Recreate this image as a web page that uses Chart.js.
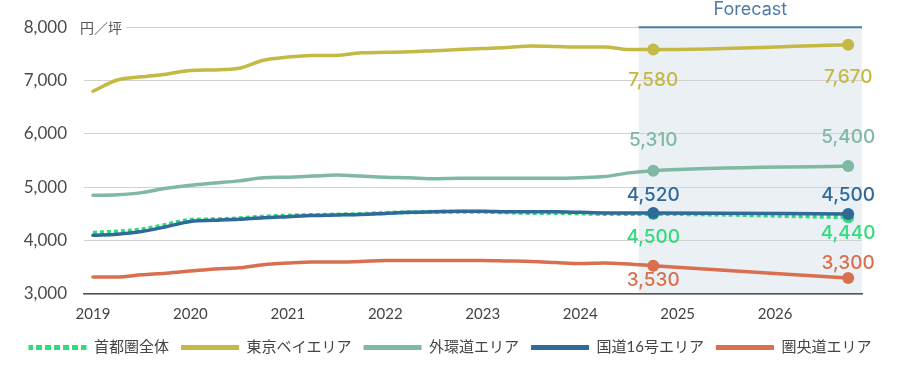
<!DOCTYPE html>
<html>
<head>
<meta charset="utf-8">
<script src="https://cdn.jsdelivr.net/npm/chart.js@4.4.1/dist/chart.umd.min.js"></script>
<style>
  html, body { margin: 0; padding: 0; background: #fff; }
</style>
</head>
<body>
<canvas id="ch1" width="900" height="365"></canvas>
<script>
// x positions: quarterly actuals, then the forecast end point
const quarters = [2019, 2019.25, 2019.5, 2019.75, 2020, 2020.25, 2020.5, 2020.75,
  2021, 2021.25, 2021.5, 2021.75, 2022, 2022.25, 2022.5, 2022.75,
  2023, 2023.25, 2023.5, 2023.75, 2024, 2024.25, 2024.5, 2024.75, 2026.75];
const years = [2019, 2020, 2021, 2022, 2023, 2024, 2025, 2026];
const yTicks = [3000, 4000, 5000, 6000, 7000, 8000];
const forecastStart = 2024.6;

const names = ['首都圏全体', '東京ベイエリア', '外環道エリア', '国道16号エリア', '圏央道エリア'];
const shutoken = [4150, 4170, 4210, 4300, 4390, 4400, 4420, 4450, 4470, 4480, 4490, 4500,
  4520, 4530, 4540, 4540, 4540, 4530, 4520, 4520, 4510, 4500, 4500, 4500, 4440];
const tokyoBay = [6800, 7010, 7070, 7120, 7190, 7200, 7230, 7380, 7440, 7470, 7470, 7520,
  7530, 7540, 7560, 7580, 7600, 7620, 7650, 7640, 7630, 7630, 7580, 7580, 7670];
const gaikando = [4850, 4860, 4900, 4980, 5040, 5080, 5120, 5180, 5190, 5210, 5230, 5210,
  5190, 5180, 5160, 5170, 5170, 5170, 5170, 5170, 5180, 5200, 5270, 5310, 5400];
const kokudo16 = [4100, 4120, 4170, 4260, 4360, 4380, 4400, 4430, 4450, 4470, 4480, 4490,
  4510, 4530, 4540, 4550, 4550, 4540, 4540, 4540, 4530, 4520, 4520, 4520, 4500];
const kenodo = [3320, 3320, 3360, 3390, 3430, 3470, 3490, 3550, 3580, 3600, 3600, 3610,
  3630, 3630, 3630, 3630, 3630, 3620, 3610, 3590, 3570, 3580, 3560, 3530, 3300];

const colors = ['#2fdc7c', '#c3b943', '#7fb8a3', '#2f6a99', '#d8704f'];
// label offsets (px) for the two marked points of each series
const labelOffsets = [[23, 16], [31, 32], [-30, -29], [-18, -19], [15, -15]];

Chart.defaults.font.family = "Lato, 'Noto Sans CJK JP', sans-serif";

function toXY(vals) {
  return vals.map((v, i) => ({ x: quarters[i], y: v }));
}

// square-dot pattern for the dotted legend swatch
const pc = document.createElement('canvas');
pc.width = 9; pc.height = 1;
const pctx = pc.getContext('2d');
pctx.fillStyle = colors[0];
pctx.fillRect(0, 0, 6, 1);
const dotPattern = document.getElementById('ch1').getContext('2d').createPattern(pc, 'repeat');

const markRadius = ctx => ctx.dataIndex >= quarters.length - 2 ? 6 : 0;

const seriesList = [shutoken, tokyoBay, gaikando, kokudo16, kenodo];
const datasets = seriesList.map((vals, i) => ({
  label: names[i],
  data: toXY(vals),
  borderColor: colors[i],
  backgroundColor: colors[i],
  borderWidth: i === 0 ? 4 : 3.5,
  borderDash: i === 0 ? [4, 3] : [],
  borderCapStyle: i === 0 ? 'butt' : 'round',
  pointRadius: markRadius,
  pointHoverRadius: markRadius,
  pointBorderWidth: 0,
  cubicInterpolationMode: 'monotone',
  order: i === 3 ? 0 : (i === 0 ? 1 : 2)
}));

const forecastBand = {
  id: 'forecastBand',
  beforeDraw(chart) {
    const { ctx, chartArea, scales } = chart;
    ctx.save();
    ctx.fillStyle = '#fff';
    ctx.fillRect(0, 0, chart.width, chart.height);
    const x0 = scales.x.getPixelForValue(forecastStart);
    ctx.fillStyle = '#ebf0f4';
    ctx.fillRect(x0, chartArea.top, chartArea.right - x0, chartArea.bottom - chartArea.top);
    ctx.restore();
  },
  beforeDatasetsDraw(chart) {
    const { ctx, chartArea, scales } = chart;
    const x0 = scales.x.getPixelForValue(forecastStart);
    ctx.save();
    ctx.strokeStyle = '#4d7ba6';
    ctx.lineWidth = 2;
    ctx.beginPath();
    ctx.moveTo(x0, chartArea.top);
    ctx.lineTo(chartArea.right, chartArea.top);
    ctx.stroke();
    ctx.fillStyle = '#4d7ba6';
    ctx.font = '18px Inter, sans-serif';
    ctx.textAlign = 'center';
    ctx.textBaseline = 'middle';
    ctx.fillText('Forecast', (x0 + chartArea.right) / 2, 10);
    // unit label over the top grid line
    const yTop = scales.y.getPixelForValue(8000);
    ctx.fillStyle = '#fff';
    ctx.fillRect(chartArea.left - 6, yTop - 8, 48, 16);
    ctx.fillStyle = '#555';
    ctx.font = "14px 'Noto Sans CJK JP', sans-serif";
    ctx.textAlign = 'left';
    ctx.fillText('円／坪', chartArea.left - 4, yTop);
    ctx.restore();
  },
  afterDatasetsDraw(chart) {
    const ctx = chart.ctx;
    ctx.save();
    ctx.font = '500 19px Inter, sans-serif';
    ctx.textAlign = 'center';
    ctx.textBaseline = 'middle';
    chart.data.datasets.forEach((ds, i) => {
      const meta = chart.getDatasetMeta(i);
      const n = ds.data.length;
      [n - 2, n - 1].forEach((j, k) => {
        const pt = meta.data[j];
        ctx.fillStyle = colors[i];
        ctx.fillText(ds.data[j].y.toLocaleString('en-US'), pt.x, pt.y + labelOffsets[i][k]);
      });
    });
    ctx.restore();
  }
};

new Chart(document.getElementById('ch1'), {
  type: 'line',
  data: { datasets: datasets },
  options: {
    responsive: false,
    animation: false,
    locale: 'en-US',
    layout: { padding: { left: 0, right: 0, top: 26, bottom: 0 } },
    plugins: {
      tooltip: { enabled: false },
      legend: {
        position: 'bottom',
        labels: {
          boxWidth: 58,
          boxHeight: 5,
          padding: 12,
          color: '#444',
          font: { size: 15 },
          generateLabels(chart) {
            return chart.data.datasets.map((ds, i) => ({
              text: ds.label,
              fillStyle: i === 0 ? dotPattern : colors[i],
              strokeStyle: colors[i],
              lineWidth: 0,
              fontColor: '#444',
              datasetIndex: i
            }));
          }
        }
      }
    },
    scales: {
      x: {
        type: 'linear',
        min: 2018.908,
        max: 2026.892,
        afterBuildTicks: s => { s.ticks = years.map(v => ({ value: v })); },
        afterFit: s => { s.height = 34; },
        ticks: { color: '#444', font: { size: 15 }, padding: 11, callback: v => String(v) },
        grid: { display: false, drawTicks: false },
        border: { display: true, color: '#555', width: 1.5 }
      },
      y: {
        min: 3000,
        max: 8000,
        afterBuildTicks: s => { s.ticks = yTicks.map(v => ({ value: v })); },
        afterFit: s => { s.width = 84; },
        ticks: { color: '#4a4a4a', font: { size: 17 }, padding: 17 },
        grid: { color: '#d2d2d2', lineWidth: 1, drawTicks: false },
        border: { display: false }
      },
      // empty right-hand gutter
      yr: {
        position: 'right',
        min: 3000,
        max: 8000,
        afterFit: s => { s.width = 38; },
        ticks: { display: false },
        grid: { display: false, drawTicks: false },
        border: { display: false }
      }
    }
  },
  plugins: [forecastBand]
});
</script>
</body>
</html>
